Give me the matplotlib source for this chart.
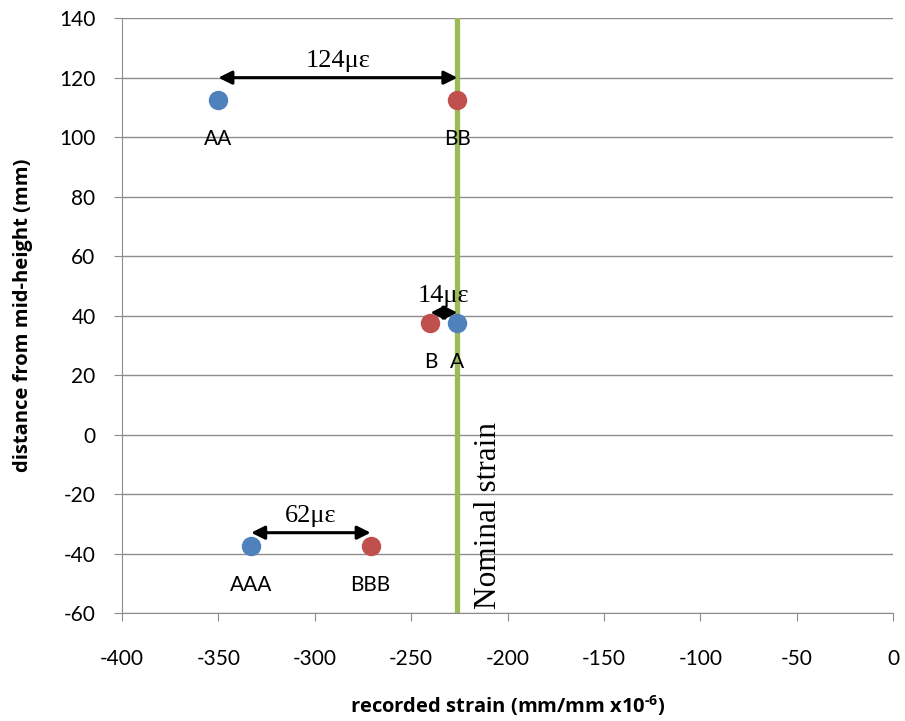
import matplotlib
matplotlib.use("Agg")
import matplotlib.pyplot as plt

plt.rcParams["axes.unicode_minus"] = False
plt.rcParams["mathtext.fontset"] = "custom"
plt.rcParams["mathtext.rm"] = "Open Sans:bold"
plt.rcParams["mathtext.bf"] = "Open Sans:bold"

# Gauge readings: strain (mm/mm x1e-6) vs distance from mid-height (mm)
blue_labels = ["AA", "A", "AAA"]
blue_strain = [-350, -226, -333]
blue_height = [112.5, 37.5, -37.5]

red_labels = ["BB", "B", "BBB"]
red_strain = [-226, -240, -271]
red_height = [112.5, 37.5, -37.5]

nominal_strain = -226

# Difference annotations: (left strain, right strain, height, text)
diff_left = [-350, -240, -333]
diff_right = [-226, -226, -271]
diff_height = [120, 41, -33]
diff_text = ["124\u03bc\u03b5", "14\u03bc\u03b5", "62\u03bc\u03b5"]

xticks = list(range(-400, 1, 50))
yticks = list(range(-60, 141, 20))

fig = plt.figure(figsize=(9.05, 7.21), dpi=100)
ax = fig.add_axes([0.1348, 0.1498, 0.852, 0.825])

sans = "Lato"
serif = "Liberation Serif"

ax.set_xlim(-400, 0)
ax.set_ylim(-60, 140)
ax.set_xticks(xticks)
ax.set_yticks(yticks)
ax.yaxis.grid(True, color="#8c8c8c", lw=1.0)
ax.set_axisbelow(True)
for s in ["top", "right"]:
    ax.spines[s].set_visible(False)
for s in ["left", "bottom"]:
    ax.spines[s].set_color("#8c8c8c")
ax.tick_params(axis="both", colors="#8c8c8c", length=6, labelcolor="black",
               labelsize=15, direction="out")
for lab in ax.get_xticklabels() + ax.get_yticklabels():
    lab.set_family(sans)
ax.tick_params(axis="x", pad=20)
ax.tick_params(axis="y", pad=13)

# nominal strain line
ax.axvline(nominal_strain, color="#9BBB59", lw=3.8, zorder=2)
ax.text(nominal_strain + 16, -58.5, "Nominal strain", rotation=90, ha="center",
        va="bottom", family=serif, fontsize=22.5)

ax.plot(blue_strain, blue_height, "o", color="#4F81BD", ms=14, mec="none", zorder=4)
ax.plot(red_strain, red_height, "o", color="#C0504D", ms=14, mec="none", zorder=4)

for lbl, x, y in zip(blue_labels, blue_strain, blue_height):
    ax.text(x, y - 13, lbl, ha="center", va="center", family=sans, fontsize=15)
for lbl, x, y in zip(red_labels, red_strain, red_height):
    ax.text(x, y - 13, lbl, ha="center", va="center", family=sans, fontsize=15)

for x0, x1, y, t in zip(diff_left, diff_right, diff_height, diff_text):
    ax.annotate("", xy=(x0, y), xytext=(x1, y),
                arrowprops=dict(arrowstyle="<|-|>", color="black", lw=2.2,
                                mutation_scale=20, shrinkA=0, shrinkB=0),
                zorder=5)
    ax.text((x0 + x1) / 2, y + 5.5, t, ha="center", va="center",
            family=serif, fontsize=19)

ax.set_xlabel(r"recorded strain (mm/mm x10$^{\text{-6}}$)", family="Open Sans",
              fontweight="bold", fontsize=14.5)
ax.set_ylabel("distance from mid-height (mm)", family="Open Sans",
              fontweight="bold", fontsize=14.5)
ax.xaxis.set_label_coords(0.5, -0.135)
ax.yaxis.set_label_coords(-0.115, 0.5)

fig.savefig("out.png", dpi=100)
